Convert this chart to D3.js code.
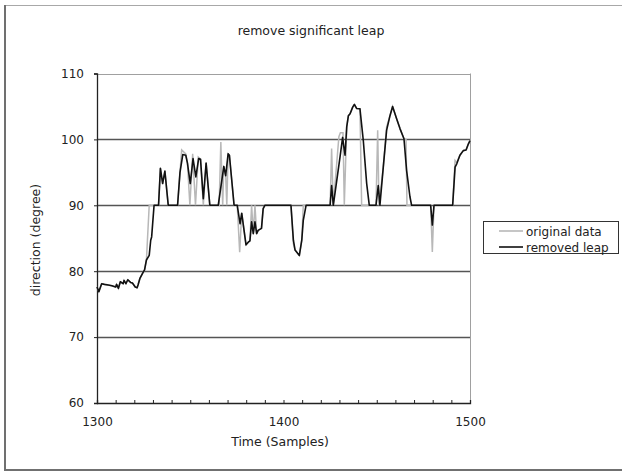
<!DOCTYPE html>
<html><head><meta charset="utf-8">
<script src="https://cdn.jsdelivr.net/npm/d3@7"></script>
<style>body{margin:0;background:#fff}svg text{font-family:"DejaVu Sans",sans-serif}</style>
</head><body><svg id="c" width="622" height="472"></svg>
<script>
const title = "remove significant leap";
const xTitle = "Time (Samples)";
const yTitle = "direction (degree)";
const xTicks = [1300, 1400, 1500];
const yTicks = [60, 70, 80, 90, 100, 110];
const seriesNames = ["original data", "removed leap"];

// removed leap (black)
const remT = [1300,1301,1302.5,1304,1306,1308,1310,1310.5,1311.5,1312.5,1314,1314.5,1315.5,1316.5,1318,1319,1320.5,1321.5,1322,1323,1324.5,1325.5,1326.5,1328,1328.8,1329.3,1330.6,
 1333,1334,1335.2,1336.4,1338.2,1343.2,1344.5,1346,1347.6,1348.5,1350,1351.5,1353,1354.5,1355.5,1357,1358.5,1360.5,1365,1368,1369,1370.3,1371,1373.5,1375.2,
 1376.7,1377.6,1379.9,1381.1,1382,1382.9,1383.8,1384.7,1385.6,1386.4,1388.2,1389.1,1390,1404,1405.3,1406.2,1408.5,1409.8,1410.6,1412.1,
 1425,1425.8,1426.7,1430.3,1431.7,1432.4,1433,1433.9,1434.8,1435.7,1437.1,1438,1439.2,1441,1442.8,1444.6,1446,1449.6,1450.8,1451.7,1453.5,1455.3,1457.1,1458.5,1459.2,1460.7,1462.5,1464.6,1466,1467.8,1468.7,
 1478.9,1479.8,1480.7,1490.7,1492,1492.9,1494.6,1496.4,1497.9,1499.1,1500];
const remV = [77.6,76.9,78.1,78.0,77.9,77.8,77.6,78.0,77.4,78.4,78.1,78.6,78.1,78.7,78.3,78.2,77.6,77.5,77.9,78.9,79.7,80.2,81.7,82.4,84.7,85.2,90,
 90,95.6,93.3,95.2,90,90,95,97.7,97.6,96.4,93.3,97.1,94.3,97.1,97.0,91,96.4,90,90,95.9,94.5,97.8,97.6,90,90,
 87.2,88.8,84.0,84.4,84.6,87.5,85.7,87.5,85.7,86.2,86.5,89.5,90,90,84.7,83.2,82.4,84.7,87.7,90,
 90,93.0,90,97.3,100.3,98.8,97.6,101.9,103.6,103.9,104.9,105.3,104.7,104.65,99.8,93.3,90,90,93.0,90,95.8,101.4,103.6,105.0,104.4,103.1,101.6,100.1,95.3,91.3,90,
 90,87.0,90,90,95.8,96.3,97.6,98.3,98.4,99.3,99.8];

// original data (gray)
const origT = [1300,1301,1302.5,1304,1306,1308,1310,1310.5,1311.5,1312.5,1314,1314.5,1315.5,1316.5,1318,1319,1320.5,1321.5,1322,1323,1324.5,1325.5,1326.5,1328,
 1333,1334,1335.2,1336.4,1338.2,1343.2,1345.4,1347.6,1348.5,1349.8,1351.3,1352.8,1354.3,1355.5,1357,1358.5,1360.5,1365.5,1366.4,1367.4,1368,1369,1369.6,1370.3,1371,1373.5,1375.2,
 1376.5,1377.6,1379.9,1381.1,1382,1382.9,1383.8,1384.7,1385.6,1386.4,1388.2,1389.1,1390,1404,1405.3,1406.2,1408.5,1409.8,1410.6,
 1425,1425.8,1426.7,1429.7,1430.5,1431.9,1432.6,1433.9,1434.8,1435.7,1437.1,1438,1439.2,1441,1441.9,1449.6,1450.5,1451.2,1453.5,1455.3,1457.1,1458.5,1459.2,1460.7,1462.5,1464.6,1465.7,1466.2,
 1478.9,1479.8,1480.7,1490.7,1492,1492.9,1494.6,1496.4,1497.9,1499.1,1500];
const origV = [77.6,76.9,78.1,78.0,77.9,77.8,77.6,78.0,77.4,78.4,78.1,78.6,78.1,78.7,78.3,78.2,77.6,77.5,77.9,78.9,79.7,80.2,81.7,90,
 90,95.6,93.3,95.2,90,90,98.4,97.8,96.4,90,97.8,90,97.3,97.0,90,96.4,90,90,99.6,90,95.9,94.5,90,97.8,97.6,90,90,
 82.9,88.8,84.0,84.4,84.6,90,85.7,90,85.7,86.2,86.5,89.5,90,90,84.2,83.2,82.4,84.7,90,
 90,98.6,90,100.4,101,101,90,101.9,103.6,103.9,104.9,105.3,104.7,104.65,90,90,101.4,90,95.8,101.9,103.6,105.0,104.4,103.1,101.6,100.1,100,90,
 90,82.9,90,90,96.8,96.5,97.6,98.3,98.4,99.3,99.8];

const svg = d3.select("#c");
const x = d3.scaleLinear().domain([1300, 1500]).range([97, 470]);
const y = d3.scaleLinear().domain([60, 110]).range([403, 73.5]);

// outer frame
svg.append("line").attr("x1",5).attr("x2",622).attr("y1",5.5).attr("y2",5.5).attr("stroke","#a8a8a8").attr("stroke-width",1);
svg.append("line").attr("x1",5).attr("x2",5).attr("y1",5).attr("y2",471).attr("stroke","#707070").attr("stroke-width",2);
svg.append("line").attr("x1",5).attr("x2",622).attr("y1",470).attr("y2",470).attr("stroke","#707070").attr("stroke-width",2);

// gridlines
yTicks.filter(d => d > 60 && d < 110).forEach(d => {
  svg.append("line").attr("x1",x(1300)).attr("x2",x(1500)).attr("y1",Math.round(y(d))+0.5).attr("y2",Math.round(y(d))+0.5)
    .attr("stroke","#555").attr("stroke-width",1.3);
});
// plot top/right border
svg.append("line").attr("x1",x(1300)).attr("x2",x(1500)).attr("y1",Math.round(y(110))+0.5).attr("y2",Math.round(y(110))+0.5).attr("stroke","#a0a0a0");
svg.append("line").attr("x1",x(1500)+0.5).attr("x2",x(1500)+0.5).attr("y1",y(110)).attr("y2",y(60)).attr("stroke","#a0a0a0");

// axes
const yAxis = d3.axisLeft(y).tickValues(yTicks).tickSize(3).tickPadding(10);
const gy = svg.append("g").attr("transform",`translate(${x(1300)},0)`).call(yAxis);
gy.select(".domain").attr("stroke","#222").attr("stroke-width",1.3);
gy.selectAll(".tick line").attr("stroke","#222");
gy.selectAll("text").attr("font-size",12).attr("fill","#222");

const minor = d3.range(1300, 1501, 10);
const xAxis = d3.axisBottom(x).tickValues(minor).tickSize(-3).tickPadding(14).tickFormat(d => xTicks.includes(d) ? d : "");
const gx = svg.append("g").attr("transform",`translate(0,${y(60)})`).call(xAxis);
gx.select(".domain").attr("stroke","#222").attr("stroke-width",1.3);
gx.selectAll(".tick line").attr("stroke","#222");
gx.selectAll("text").attr("font-size",12).attr("fill","#222");

// lines
const mk = (T, V) => T.map((t, i) => [t, V[i]]);
const line = d3.line().x(d => x(d[0])).y(d => y(d[1]));
svg.append("path").datum(mk(origT, origV)).attr("d", line).attr("fill","none").attr("stroke","#b8b8b8").attr("stroke-width",1.5);
svg.append("path").datum(mk(remT, remV)).attr("d", line).attr("fill","none").attr("stroke","#111").attr("stroke-width",1.6).attr("stroke-linejoin","round");

// titles
svg.append("text").attr("x",311).attr("y",35).attr("text-anchor","middle").attr("font-size",12.5).attr("fill","#222").text(title);
svg.append("text").attr("x",280).attr("y",446).attr("text-anchor","middle").attr("font-size",12.5).attr("fill","#222").text(xTitle);
svg.append("text").attr("transform","translate(40,240) rotate(-90)").attr("text-anchor","middle").attr("font-size",12.5).attr("fill","#222").text(yTitle);

// legend
const lg = svg.append("g");
lg.append("rect").attr("x",483.5).attr("y",221.5).attr("width",135).attr("height",32).attr("fill","#fff").attr("stroke","#333").attr("stroke-width",1);
const colors = ["#b8b8b8", "#111"];
seriesNames.forEach((n, i) => {
  const yy = 231 + i * 16;
  lg.append("line").attr("x1",499).attr("x2",523).attr("y1",yy).attr("y2",yy).attr("stroke",colors[i]).attr("stroke-width",1.6);
  lg.append("text").attr("x",526).attr("y",yy+4.5).attr("font-size",12).attr("fill","#222").text(n);
});
</script></body></html>
